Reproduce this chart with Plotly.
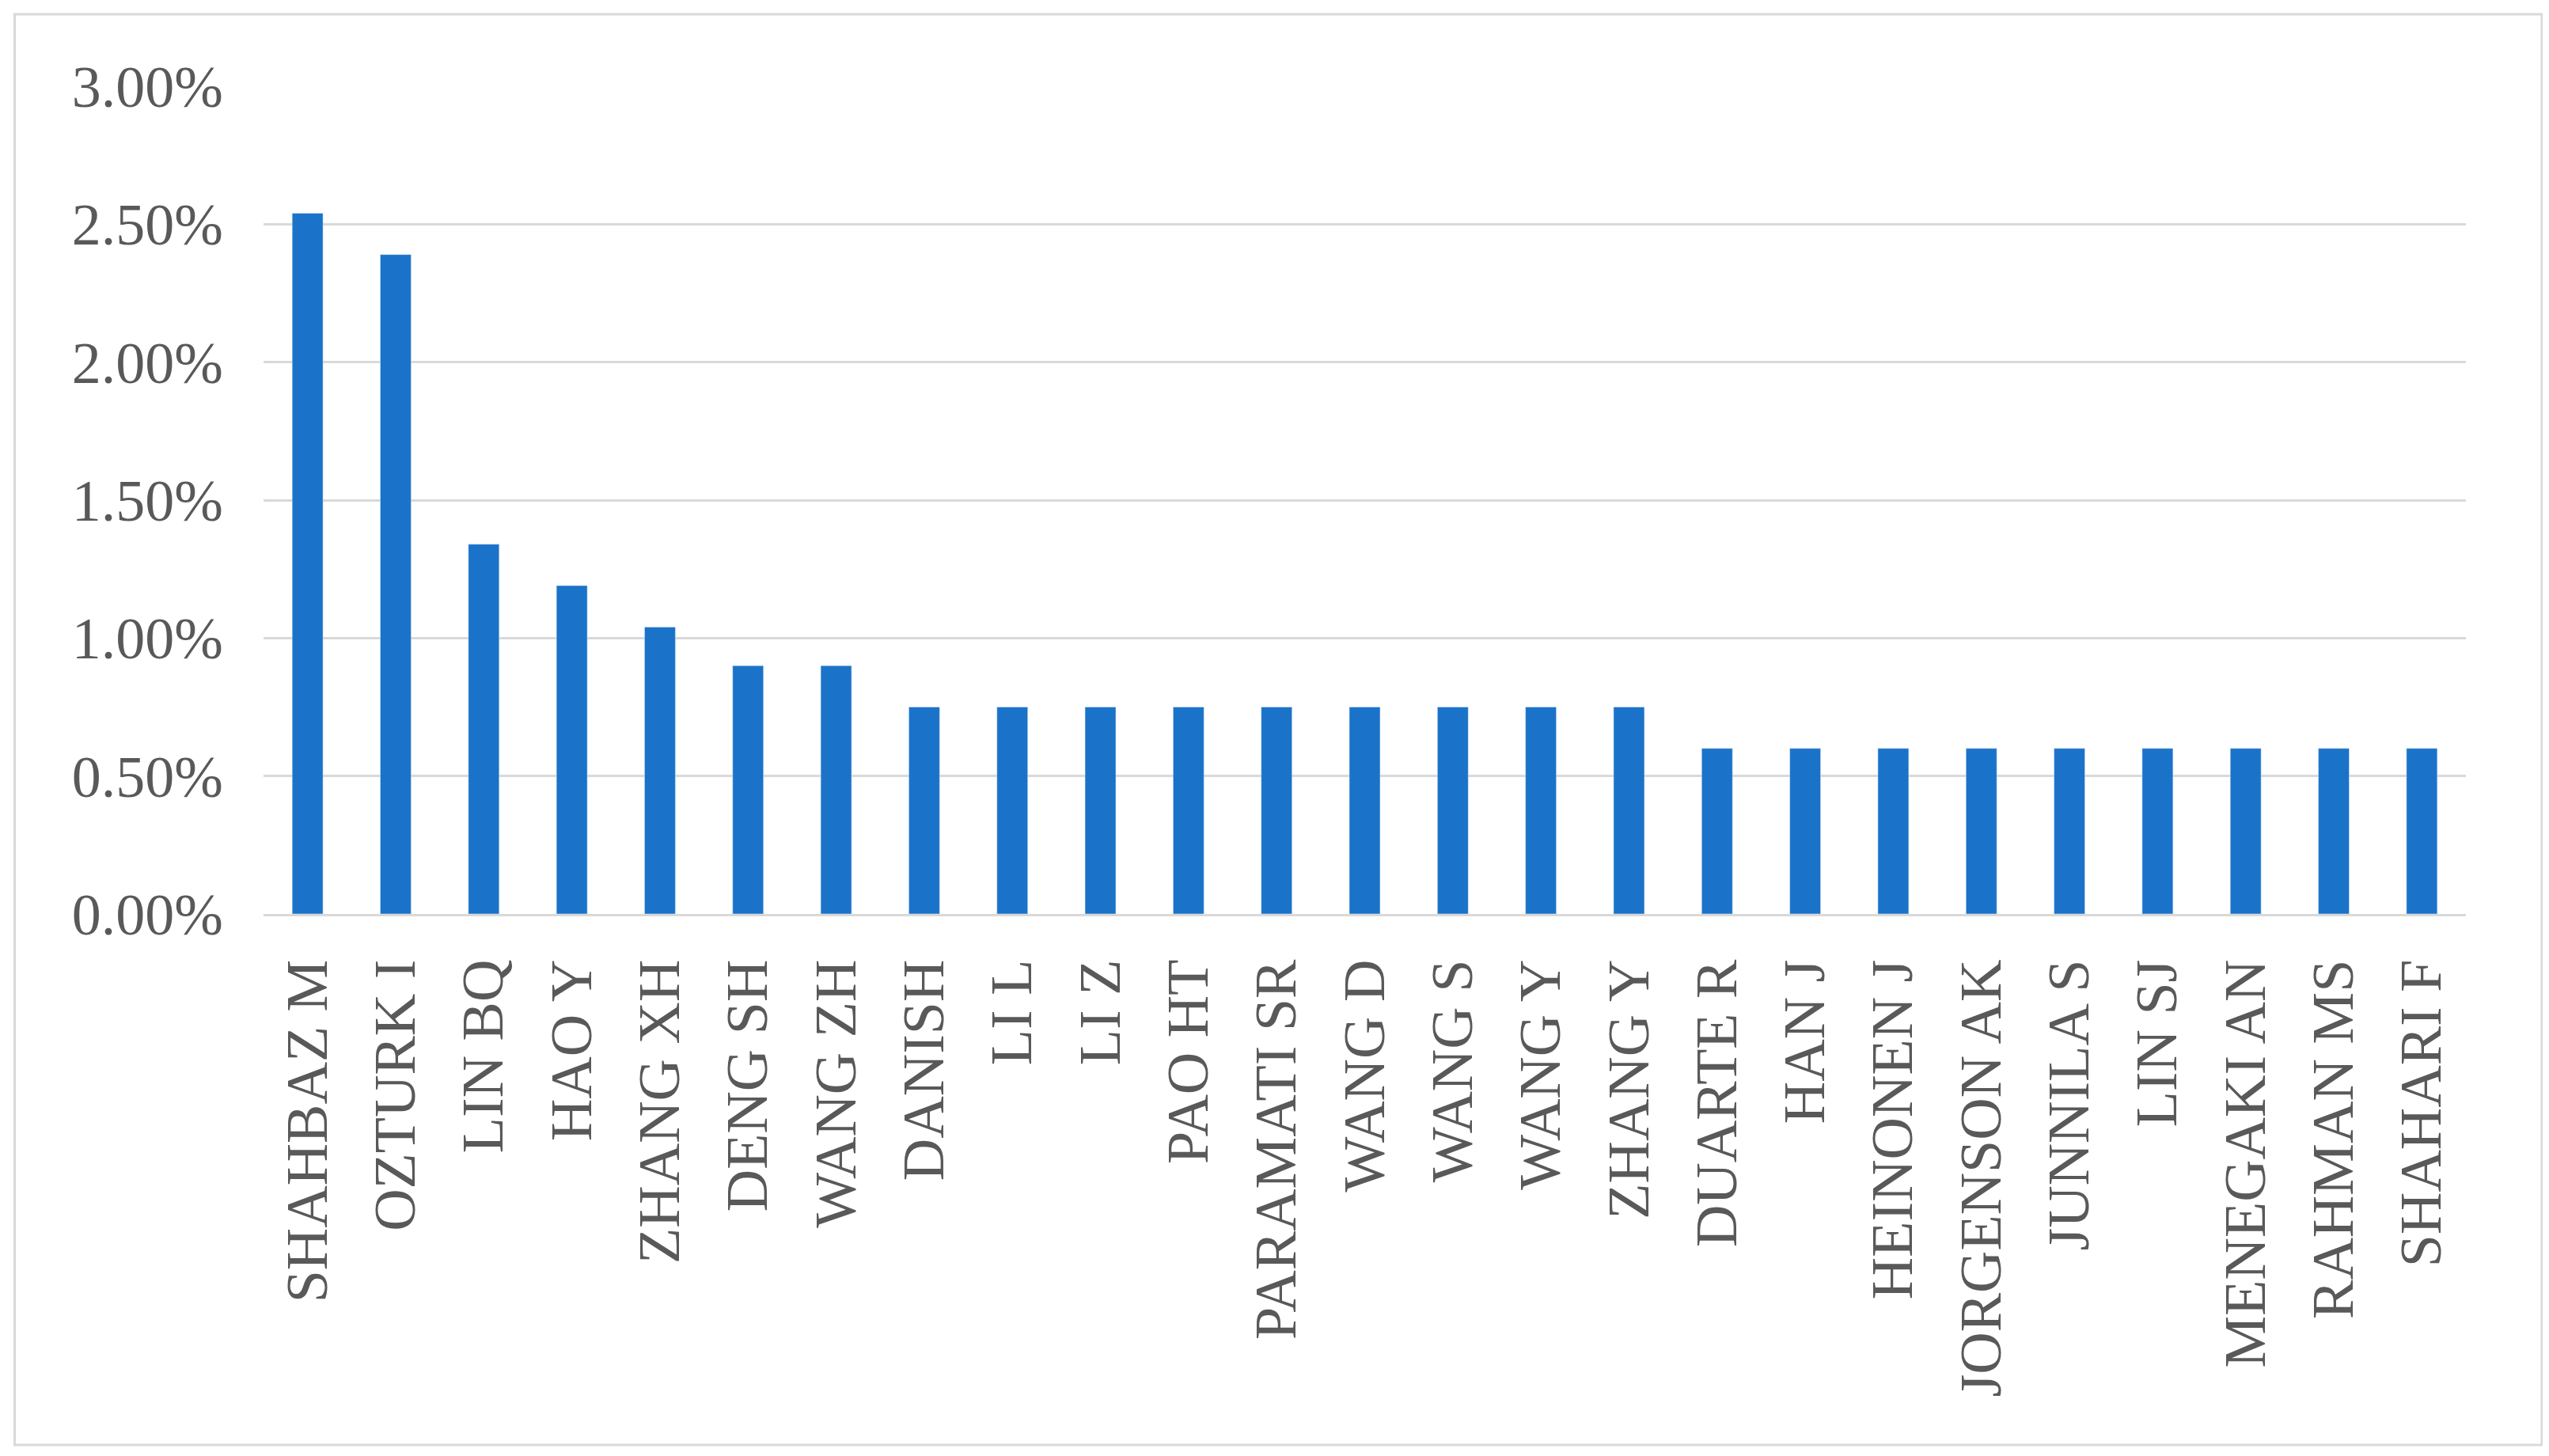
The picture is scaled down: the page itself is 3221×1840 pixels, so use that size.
import plotly.graph_objects as go

authors = ["SHAHBAZ M","OZTURK I","LIN BQ","HAO Y","ZHANG XH","DENG SH","WANG ZH","DANISH","LI L","LI Z","PAO HT","PARAMATI SR","WANG D","WANG S","WANG Y","ZHANG Y","DUARTE R","HAN J","HEINONEN J","JORGENSON AK","JUNNILA S","LIN SJ","MENEGAKI AN","RAHMAN MS","SHAHARI F"]
shares = [0.0254,0.0239,0.0134,0.0119,0.0104,0.0090,0.0090,0.0075,0.0075,0.0075,0.0075,0.0075,0.0075,0.0075,0.0075,0.0075,0.0060,0.0060,0.0060,0.0060,0.0060,0.0060,0.0060,0.0060,0.0060]
yticks = [0,0.005,0.01,0.015,0.02,0.025,0.03]

font = dict(family="Liberation Serif", size=74, color="#595959")
fig = go.Figure(go.Bar(x=authors, y=shares, marker_color="#1a73c8", width=0.35))
fig.update_layout(
    width=3221, height=1840, plot_bgcolor="white", paper_bgcolor="white",
    margin=dict(l=325, r=113, t=101, b=693), showlegend=False, font=font,
    bargap=0.65,
)
fig.update_yaxes(range=[0,0.03], tickvals=yticks, tickformat=".2%", gridcolor="#d9d9d9",
                 gridwidth=3, zeroline=False, showline=False, ticklabelstandoff=50, tickfont=font)
fig.update_xaxes(tickangle=-90, showline=True, linecolor="#d9d9d9", linewidth=3,
                 ticks="", ticklabelstandoff=25, tickfont=font)
fig.add_shape(type="rect", xref="paper", yref="paper", x0=-0.113, x1=1.0345, y0=-0.6415, y1=1.087,
              line=dict(color="#d9d9d9", width=3))
fig.write_html("out.html")
